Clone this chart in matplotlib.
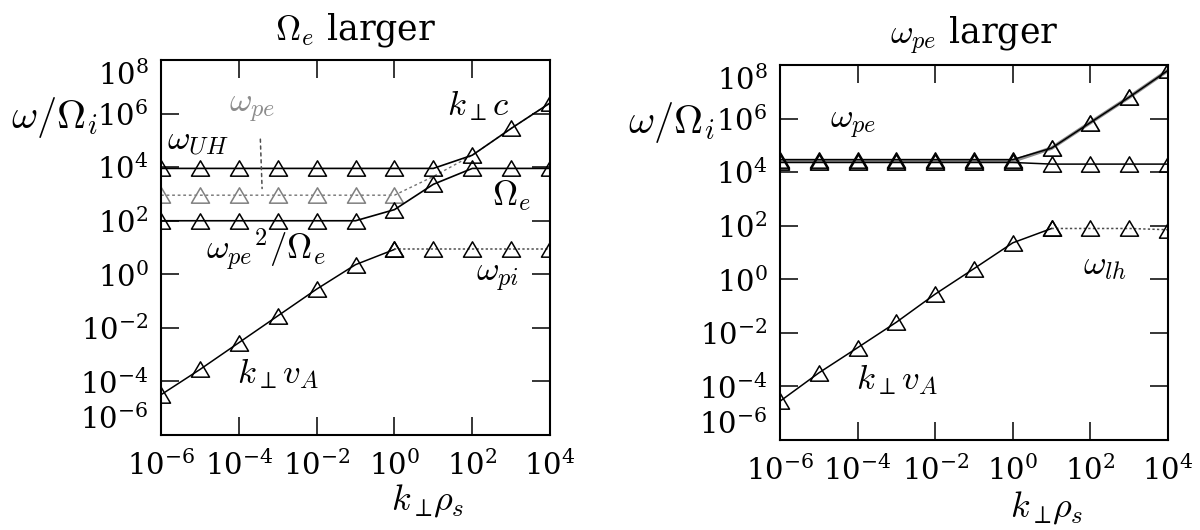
import matplotlib
matplotlib.use('Agg')
import matplotlib.pyplot as plt
from matplotlib.path import Path

plt.rcParams['font.family'] = 'DejaVu Serif'
plt.rcParams['mathtext.fontset'] = 'cm'

# wavenumber k_perp rho_s, one point per decade
k_perp = [1e-6, 1e-5, 1e-4, 1e-3, 1e-2, 1e-1, 1e0, 1e1, 1e2, 1e3, 1e4]

# --- Omega_e larger ---
om_uh_a = [9e3, 9e3, 9e3, 9e3, 9e3, 9e3, 9e3, 9e3, 2.8e4, 2.8e5, 2.5e6]
om_pe_a = [9e2, 9e2, 9e2, 9e2, 9e2, 9e2, 9e2, 4.5e3, 2.8e4, 2.8e5, 2.5e6]
om_ce_a = [1e2, 1e2, 1e2, 1e2, 1e2, 1e2, 2.6e2, 2.3e3, 9e3, 9e3, 9e3]
om_low_a = [3.2e-5, 2.8e-4, 2.8e-3, 2.8e-2, 0.28, 2.3, 8.5, 8.5, 8.5, 8.5, 8.5]

# --- omega_pe larger ---
om_uh_b = [2.95e4, 2.95e4, 2.95e4, 2.95e4, 2.95e4, 2.95e4, 2.95e4, 7.9e4, 7.1e5, 6.3e6, 6.3e7]
om_pe_b = [2.6e4, 2.6e4, 2.6e4, 2.6e4, 2.6e4, 2.6e4, 2.6e4, 7.9e4, 7.1e5, 6.3e6, 6.3e7]
om_ce_b = [2.3e4, 2.3e4, 2.3e4, 2.3e4, 2.3e4, 2.3e4, 2.3e4, 2e4, 2e4, 2e4, 2e4]
om_low_b = [2.8e-5, 3.2e-4, 2.8e-3, 2.5e-2, 0.28, 2.5, 23, 79, 79, 79, 71]

xticks = [1e-6, 1e-4, 1e-2, 1e0, 1e2, 1e4]
yticks = [1e-6, 1e-4, 1e-2, 1e0, 1e2, 1e4, 1e6, 1e8]

# open triangle, a bit flatter than the stock '^'
tri = Path([(-1, -0.85), (1, -0.85), (0, 0.85), (-1, -0.85)],
           [Path.MOVETO, Path.LINETO, Path.LINETO, Path.CLOSEPOLY])
mk = dict(marker=tri, ms=13, mfc='none', mew=1.1)

fig = plt.figure(figsize=(12, 5.3), dpi=100)
ax1 = fig.add_axes([0.1342, 0.1792, 0.3242, 0.7075])
ax2 = fig.add_axes([0.650, 0.1698, 0.3233, 0.7075])


def setup(ax):
    ax.set_xscale('log')
    ax.set_yscale('log')
    ax.set_xlim(1e-6, 1e4)
    ax.set_ylim(1e-6, 1e8)
    ax.set_xticks(xticks)
    ax.set_yticks(yticks)
    ax.minorticks_off()
    ax.tick_params(direction='in', length=13, width=1.1, top=True, right=True,
                   labelsize=21)
    ax.tick_params(axis='x', pad=11)
    ax.tick_params(axis='y', pad=9)
    for s in ax.spines.values():
        s.set_linewidth(1.5)
    labs = ax.get_yticklabels()
    labs[0].set_va('bottom')
    labs[-1].set_va('top')


lab = dict(fontsize=25, va='center', ha='left')
ttl = dict(fontsize=25, pad=15)

# left panel
ax = ax1
setup(ax)
ax.plot(k_perp, om_pe_a, color='0.45', lw=1.0, ls=(0, (2, 2)), mec='0.5',
        markevery=list(range(7)), **mk)
ax.plot(k_perp, om_uh_a, color='k', lw=1.2, mec='k', **mk)
ax.plot(k_perp, om_ce_a, color='k', lw=1.2, mec='k', **mk)
ax.plot(k_perp[:7], om_low_a[:7], color='k', lw=1.1, mec='k', **mk)
ax.plot(k_perp[6:], om_low_a[6:], color='0.3', lw=1.1, ls=(0, (1.5, 1.5)),
        mec='k', **mk)
ax.annotate('', xy=(10**-3.4, om_pe_a[3] * 1.4), xytext=(10**-3.45, 10**5.15),
            arrowprops=dict(arrowstyle='-', ls=(0, (2, 2.5)), color='0.3', lw=1.1))
ax.text(10**-5.85, 10**4.98, r'$\omega_{UH}$', **lab)
ax.text(10**-4.25, 10**6.2, r'$\omega_{pe}$', color='0.55', **lab)
ax.text(10**1.35, 10**6.3, r'$k_\perp c$', **lab)
ax.text(10**2.5, 10**2.95, r'$\Omega_e$', **lab)
ax.text(10**-4.85, 10**0.95, r'${\omega_{pe}}^2/\Omega_e$', **lab)
ax.text(10**2.1, 10**-0.1, r'$\omega_{pi}$', **lab)
ax.text(10**-4.05, 10**-3.7, r'$k_\perp v_A$', **lab)
ax.set_title(r'$\Omega_e$ larger', **ttl)
ax.text(0.686, -0.175, r'$k_\perp\!\rho_s$', transform=ax.transAxes, fontsize=26,
        ha='center', va='center')
ax.text(-0.385, 0.848, r'$\omega/\Omega_i$', transform=ax.transAxes, fontsize=29,
        ha='left', va='center')

# right panel
ax = ax2
setup(ax)
ax.plot(k_perp, om_pe_b, color='0.55', lw=2.6, mec='0.55', **mk)
ax.plot(k_perp, om_uh_b, color='k', lw=1.1, mec='k', **mk)
ax.plot(k_perp, om_ce_b, color='k', lw=1.1, mec='k', **mk)
ax.plot(k_perp[:8], om_low_b[:8], color='k', lw=1.1, mec='k', **mk)
ax.plot(k_perp[7:], om_low_b[7:], color='0.3', lw=1.1, ls=(0, (1.5, 1.5)),
        mec='k', **mk)
ax.text(10**-4.7, 10**5.8, r'$\omega_{pe}$', **lab)
ax.text(10**1.8, 10**0.55, r'$\omega_{lh}$', **lab)
ax.text(10**-4.05, 10**-3.75, r'$k_\perp v_A$', **lab)
ax.set_title(r'$\omega_{pe}$ larger', **ttl)
ax.text(0.688, -0.18, r'$k_\perp\!\rho_s$', transform=ax.transAxes, fontsize=26,
        ha='center', va='center')
ax.text(-0.392, 0.848, r'$\omega/\Omega_i$', transform=ax.transAxes, fontsize=29,
        ha='left', va='center')

fig.savefig('out.png', dpi=100)
